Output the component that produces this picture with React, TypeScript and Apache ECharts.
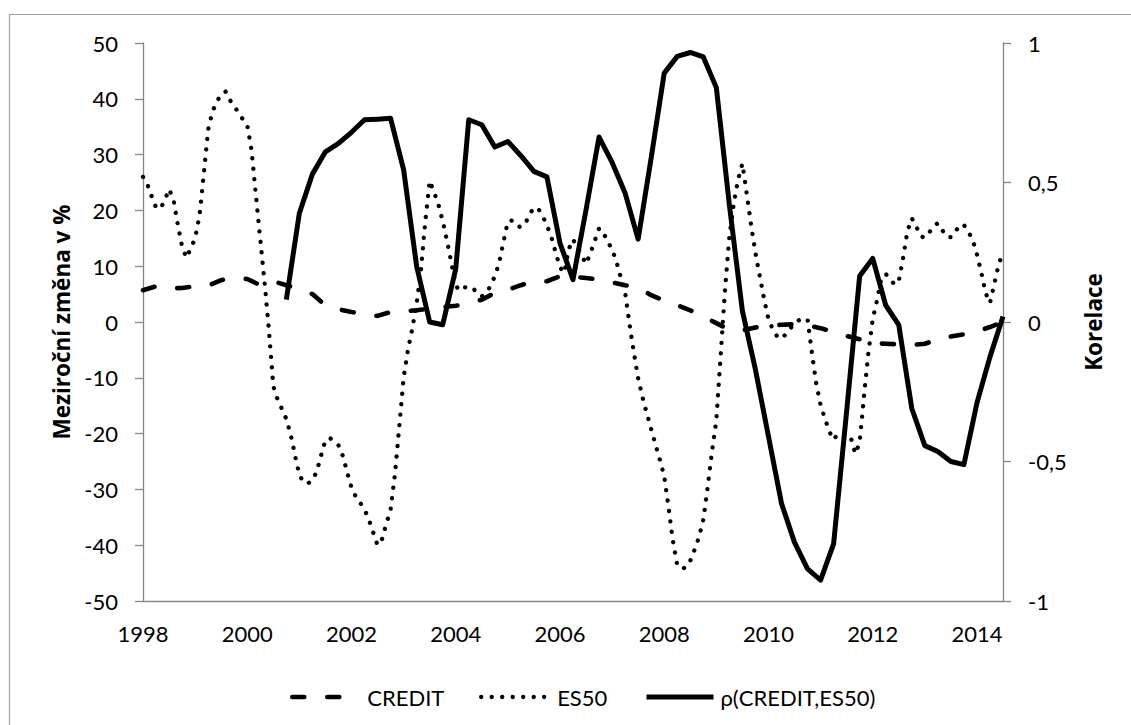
import React, { useEffect, useRef } from "react";
import * as echarts from "echarts";

// ---- data ----
const FIRST_YEAR = 1998; // first observation: January 1998
const seriesNames = ["CREDIT", "ES50", "ρ(CREDIT,ES50)"];

// CREDIT, quarterly, 1998Q1 .. 2014Q3 (y/y change, %)
const creditQuarterly = [
  5.7, 6.4, 6.0, 6.1, 6.4, 6.5, 7.5, 7.9, 7.7, 6.6, 7.3, 6.6,
  5.9, 5.0, 3.0, 2.3, 1.8, 1.4, 1.1, 1.8, 1.9, 2.1, 2.4, 2.7,
  2.9, 3.3, 4.0, 5.2, 5.8, 6.6, 7.3, 7.3, 8.2, 8.1, 7.9, 7.6,
  7.1, 6.6, 6.2, 4.8, 3.8, 3.0, 2.1, 1.0, -0.2, -1.4, -1.5, -1.0,
  -0.6, -0.5, -0.4, -0.6, -1.1, -1.8, -2.5, -3.1, -3.8, -3.9, -4.0, -4.1,
  -3.9, -3.1, -2.6, -2.2, -1.7, -0.9, 0.0,
];

// ES50, monthly, Jan 1998 .. Jul 2014 (y/y change, %)
const es50Monthly = [
  26.0, 24.7, 22.5, 20.5, 20.3, 21.8, 23.8, 22.0, 17.5, 13.5, 11.5, 13.2,
  15.0, 19.0, 26.5, 34.5, 37.7, 39.5, 40.8, 41.3, 39.8, 38.7, 37.5, 36.3,
  35.3, 30.7, 22.7, 14.8, 7.0, -1.5, -11.5, -13.9, -15.6, -17.4, -20.2, -23.9,
  -27.4, -28.8, -28.9, -28.4, -26.8, -23.9, -21.2, -20.8, -21.3, -22.1, -24.0, -26.9,
  -29.7, -31.3, -32.4, -33.6, -35.4, -37.7, -40.0, -39.0, -36.2, -33.6, -27.3, -18.8,
  -10.0, -5.0, -1.2, 3.3, 9.4, 18.1, 25.3, 23.3, 21.1, 18.1, 14.5, 10.6,
  6.5, 5.6, 6.2, 6.3, 6.1, 5.0, 4.6, 5.3, 6.4, 8.2, 10.6, 14.4,
  18.0, 18.2, 17.3, 17.0, 17.6, 19.3, 20.5, 20.3, 19.0, 17.3, 15.3, 12.5,
  9.8, 8.8, 13.0, 14.8, 13.3, 12.0, 10.4, 12.3, 14.5, 16.8, 16.0, 14.4,
  13.0, 10.8, 8.0, 5.3, -0.3, -5.4, -10.1, -13.5, -16.4, -19.2, -22.0, -24.7,
  -27.6, -33.2, -39.2, -43.6, -44.2, -44.0, -42.8, -40.8, -38.6, -35.4, -29.6, -23.2,
  -17.5, -6.0, 5.8, 15.3, 21.2, 25.5, 28.4, 23.0, 17.4, 12.4, 8.2, 4.1,
  0.5, -1.3, -2.6, -3.0, -2.2, -1.2, -0.2, 0.3, 0.6, 0.5, -5.5, -11.0,
  -14.9, -17.3, -19.6, -21.1, -20.0, -19.8, -20.0, -20.8, -23.6, -21.6, -13.2, -5.6,
  0.5, 3.9, 7.9, 8.6, 7.8, 6.7, 7.3, 11.5, 16.3, 18.6, 17.2, 15.4,
  15.1, 16.0, 17.2, 17.7, 16.5, 15.3, 15.2, 16.1, 17.4, 17.4, 16.2, 14.8,
  12.1, 8.9, 5.2, 3.4, 6.8, 10.3, 12.5,
];

// rolling correlation, quarterly, 1998Q1 .. 2014Q3 (starts 2000Q4)
const rhoQuarterly = [
  null, null, null, null, null, null, null, null, null, null, null, 0.08,
  0.39, 0.53, 0.61, 0.64, 0.68, 0.725, 0.727, 0.73, 0.546, 0.2, 0.0, -0.01,
  0.19, 0.725, 0.707, 0.627, 0.647, 0.596, 0.54, 0.52, 0.283, 0.152, 0.402, 0.663,
  0.572, 0.462, 0.297, 0.588, 0.892, 0.952, 0.966, 0.95, 0.84, 0.42, 0.04, -0.17,
  -0.41, -0.65, -0.79, -0.885, -0.925, -0.795, -0.32, 0.165, 0.228, 0.06, -0.01, -0.31,
  -0.443, -0.464, -0.5, -0.511, -0.29, -0.125, 0.02,
];

const xMin = 1998;
const xMax = 2014.5;
const xStep = 2;
const leftAxis = { min: -50, max: 50, step: 10 };
const rightAxis = { min: -1, max: 1, step: 0.5 };
const leftTitle = "Meziroční změna v %";
const rightTitle = "Korelace";

const FONT = "Lato, 'Noto Sans', 'DejaVu Sans', sans-serif";
const TITLE_FONT = "'Open Sans', 'Noto Sans', 'DejaVu Sans', sans-serif";
const AXIS_GRAY = "#868686";

export default function App() {
  const ref = useRef<HTMLDivElement>(null);

  useEffect(() => {
    if (!ref.current) return;
    const chart = echarts.init(ref.current, undefined, { renderer: "svg" });

    const quarterly = (arr: (number | null)[]) =>
      arr.map((v, i) => [FIRST_YEAR + i / 4, v]);
    const monthly = (arr: number[]) => arr.map((v, i) => [FIRST_YEAR + i / 12, v]);

    const legendText = (pad: number) => ({
      fontFamily: FONT,
      fontSize: 22,
      color: "#000",
      padding: [0, 0, 0, pad],
    });
    const titleStyle = {
      fontFamily: TITLE_FONT,
      fontSize: 22.5,
      fontWeight: "bold",
      color: "#000",
    };

    chart.setOption({
      animation: false,
      backgroundColor: "#fff",
      textStyle: { fontFamily: FONT },
      grid: { left: 143, top: 43, width: 860, height: 558, containLabel: false },
      graphic: [
        {
          type: "rect",
          silent: true,
          shape: { x: 9.5, y: 14.5, width: 1300, height: 900 },
          style: { fill: "none", stroke: "#a0a0a0", lineWidth: 1.2 },
        },
      ],
      xAxis: {
        type: "value",
        min: xMin,
        max: xMax,
        interval: xStep,
        axisLine: { show: true, onZero: false, lineStyle: { color: AXIS_GRAY, width: 1.3 } },
        axisTick: { show: false },
        splitLine: { show: false },
        axisLabel: {
          fontSize: 22,
          color: "#000",
          fontFamily: FONT,
          margin: 21,
          showMaxLabel: false,
          formatter: (v: number) => ((v - xMin) % xStep === 0 ? String(v) : ""),
        },
      },
      yAxis: [
        {
          type: "value",
          position: "left",
          min: leftAxis.min,
          max: leftAxis.max,
          interval: leftAxis.step,
          name: leftTitle,
          nameLocation: "middle",
          nameRotate: 90,
          nameGap: 69,
          nameTextStyle: titleStyle,
          axisLine: { show: true, onZero: false, lineStyle: { color: AXIS_GRAY, width: 1.3 } },
          axisTick: { show: true, inside: false, length: 8, lineStyle: { color: AXIS_GRAY, width: 1.3 } },
          splitLine: { show: false },
          axisLabel: { fontSize: 22, color: "#000", fontFamily: FONT, margin: 25 },
        },
        {
          type: "value",
          position: "right",
          min: rightAxis.min,
          max: rightAxis.max,
          interval: rightAxis.step,
          name: rightTitle,
          nameLocation: "middle",
          nameRotate: 90,
          nameGap: 79,
          nameTextStyle: titleStyle,
          axisLine: { show: true, onZero: false, lineStyle: { color: AXIS_GRAY, width: 1.3 } },
          axisTick: { show: true, inside: false, length: 8, lineStyle: { color: AXIS_GRAY, width: 1.3 } },
          splitLine: { show: false },
          axisLabel: {
            fontSize: 22,
            color: "#000",
            fontFamily: FONT,
            margin: 25,
            formatter: (v: number) => String(v).replace(".", ","),
          },
        },
      ],
      legend: [
        {
          data: [seriesNames[0]],
          left: 285,
          top: 681,
          itemWidth: 50,
          itemHeight: 20,
          itemStyle: { opacity: 0 },
          lineStyle: { width: 4.6 },
          textStyle: legendText(20),
          selectedMode: false,
        },
        {
          data: [seriesNames[1]],
          left: 474,
          top: 681,
          itemWidth: 63,
          itemHeight: 20,
          itemStyle: { opacity: 0 },
          lineStyle: { width: 4.3 },
          textStyle: legendText(8),
          selectedMode: false,
        },
        {
          data: [seriesNames[2]],
          left: 639,
          top: 681,
          itemWidth: 67,
          itemHeight: 20,
          itemStyle: { opacity: 0 },
          lineStyle: { width: 5 },
          textStyle: legendText(2),
          selectedMode: false,
        },
      ],
      series: [
        {
          name: seriesNames[0],
          type: "line",
          yAxisIndex: 0,
          data: quarterly(creditQuarterly),
          symbol: "none",
          lineStyle: { color: "#000", width: 4.6, type: [12, 23], cap: "round", join: "round" },
          itemStyle: { color: "#000" },
        },
        {
          name: seriesNames[1],
          type: "line",
          yAxisIndex: 0,
          data: monthly(es50Monthly),
          symbol: "none",
          lineStyle: { color: "#000", width: 4.3, type: [0.1, 10.4], cap: "round", join: "round" },
          itemStyle: { color: "#000" },
        },
        {
          name: seriesNames[2],
          type: "line",
          yAxisIndex: 1,
          data: quarterly(rhoQuarterly),
          symbol: "none",
          lineStyle: { color: "#000", width: 5, type: "solid", cap: "butt", join: "round" },
          itemStyle: { color: "#000" },
        },
      ],
    });

    return () => chart.dispose();
  }, []);

  return (
    <div
      ref={ref}
      style={{ position: "fixed", left: 0, top: 0, width: 1131, height: 725, background: "#fff" }}
    />
  );
}
